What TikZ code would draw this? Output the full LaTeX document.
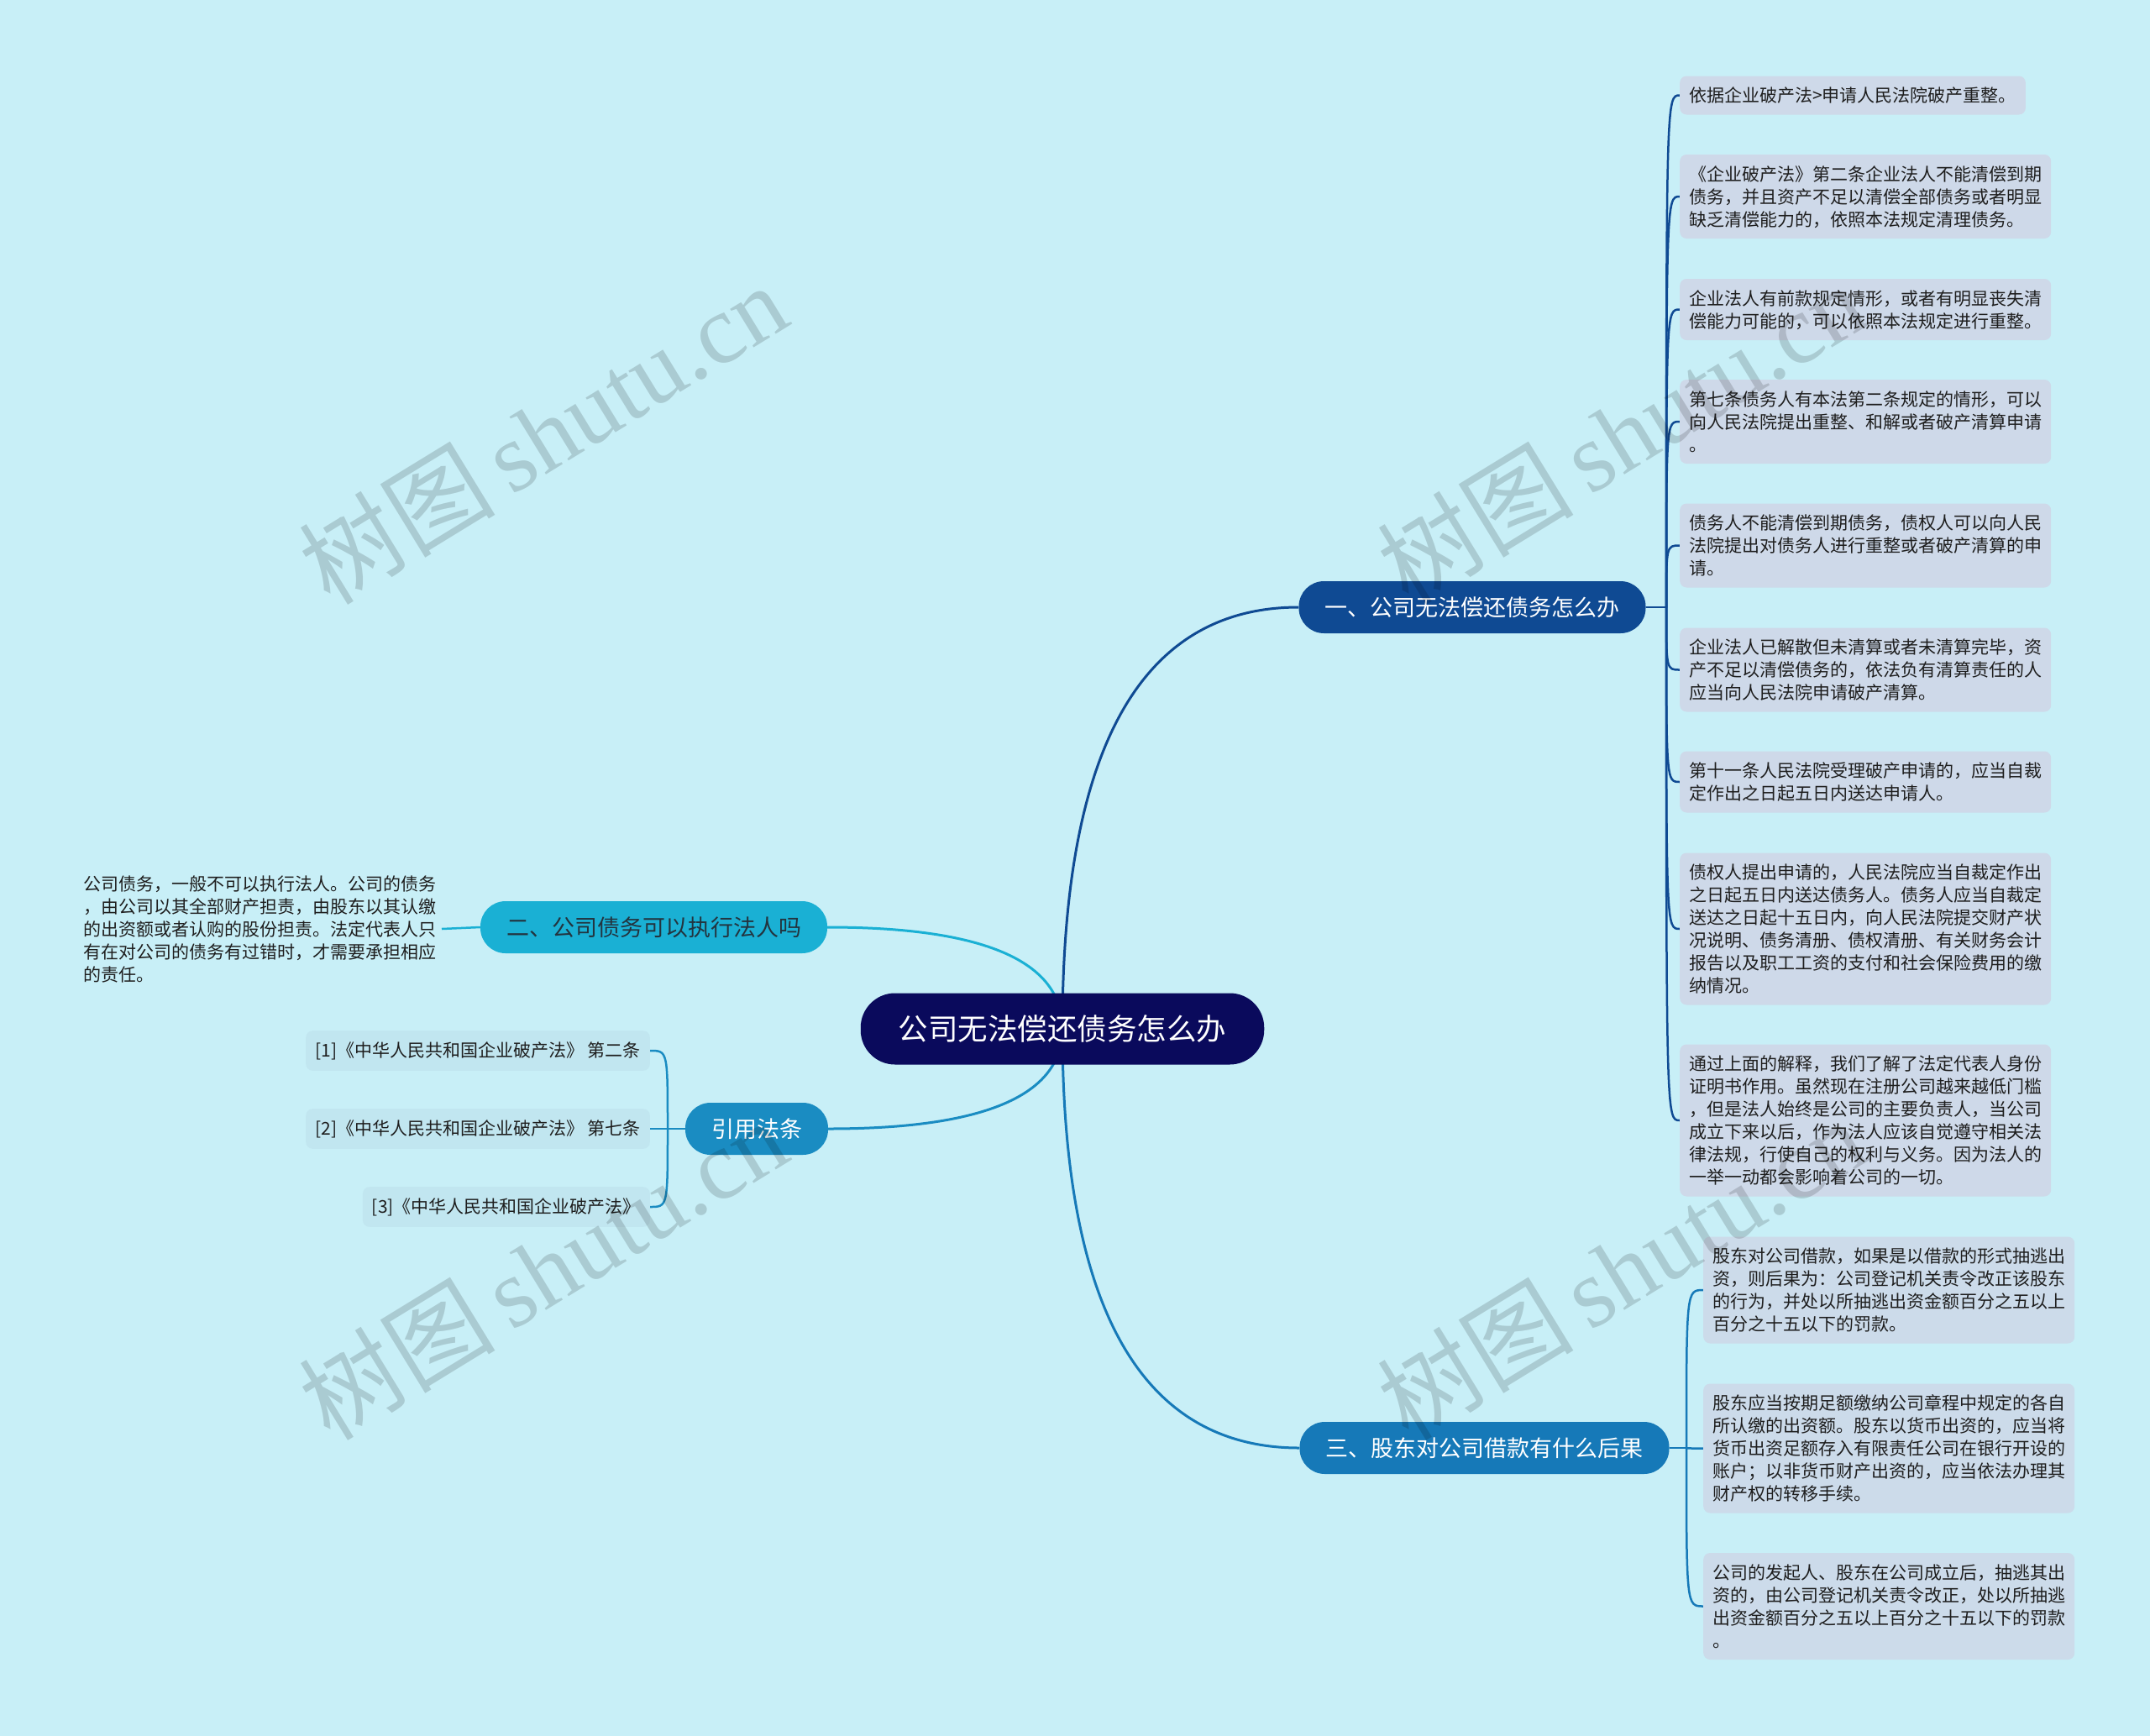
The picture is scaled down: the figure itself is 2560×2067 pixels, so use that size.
\documentclass[tikz,border=0pt]{standalone}
\usepackage{fontspec}
\setmainfont{Noto Sans CJK SC}
\newfontfamily\wmserif{Liberation Serif}
\newfontfamily\wmcjk{Noto Sans CJK SC}
\usetikzlibrary{calc}
\definecolor{bgc}{HTML}{C8EFF7}
\definecolor{rootc}{HTML}{0A0A5C}
\definecolor{bonec}{HTML}{0F4A93}
\definecolor{btwoc}{HTML}{1AB0D4}
\definecolor{citebc}{HTML}{1A8CC2}
\definecolor{bthreec}{HTML}{1679B8}
\definecolor{leafc}{HTML}{CED9E9}
\definecolor{leafcb}{HTML}{CCDBEA}
\definecolor{citec}{HTML}{C1E6F0}
\definecolor{txt}{HTML}{1E1E1E}
\definecolor{btwotxt}{HTML}{23343F}
\pgfdeclarelayer{back}
\pgfdeclarelayer{lines}
\pgfdeclarelayer{front}
\pgfsetlayers{back,lines,main,front}
\newcommand\lst{\vrule height 19pt depth 3pt width 0pt}
\begin{document}
\begin{tikzpicture}[x=1pt,y=-1pt,
  rootbox/.style={fill=rootc, text=white, rounded corners=41pt, minimum height=85pt,
    inner xsep=45pt, inner ysep=0pt, font=\fontsize{35.5}{40}\selectfont},
  branchbox/.style={rounded corners=30pt, minimum height=62pt, inner xsep=31pt,
    inner ysep=0pt, font=\fontsize{27}{32}\selectfont},
  leafbox/.style={fill=leafc, rounded corners=8pt, inner xsep=11pt, inner ysep=12pt,
    align=left, text=txt, font=\fontsize{21}{27}\selectfont, anchor=west},
  leafboxb/.style={leafbox, fill=leafcb},
  citebox/.style={fill=citec, rounded corners=8pt, inner xsep=11pt, inner ysep=12.5pt,
    text=txt, font=\fontsize{21}{27}\selectfont, anchor=east},
  plainleaf/.style={inner xsep=6pt, inner ysep=0pt, align=left, text=txt,
    font=\fontsize{21}{27}\selectfont, anchor=east},
  mainline/.style={line width=3pt},
  leafline/.style={line width=2.5pt},
  wm/.style={text=black, text opacity=0.15, font=\fontsize{117}{125}\selectfont, rotate=31.5}
]
\begin{pgfonlayer}{back}
\fill[bgc] (0,0) rectangle (2560,2067);
\end{pgfonlayer}
\useasboundingbox (0,0) rectangle (2560,2067);

% root and main branches
\node[rootbox] (root) at (1265,1225) {公司无法偿还债务怎么办};
\node[branchbox, fill=bonec, text=white] (b1) at (1753,723) {一、公司无法偿还债务怎么办};
\node[branchbox, fill=btwoc, text=btwotxt] (b2) at (778.5,1104) {二、公司债务可以执行法人吗};
\node[branchbox, fill=citebc, text=white] (b4) at (901,1344) {引用法条};
\node[branchbox, fill=bthreec, text=white] (b3) at (1767.5,1724) {三、股东对公司借款有什么后果};

% leaves of branch 1
\node[leafbox] (l1) at (2000,113.5) {\lst 依据企业破产法>申请人民法院破产重整。\lst};
\node[leafbox] (l2) at (2000,234) {\lst《企业破产法》第二条企业法人不能清偿到期\\债务，并且资产不足以清偿全部债务或者明显\\缺乏清偿能力的，依照本法规定清理债务。\lst};
\node[leafbox] (l3) at (2000,368.5) {\lst 企业法人有前款规定情形，或者有明显丧失清\\偿能力可能的，可以依照本法规定进行重整。\lst};
\node[leafbox] (l4) at (2000,502) {\lst 第七条债务人有本法第二条规定的情形，可以\\向人民法院提出重整、和解或者破产清算申请\\。\lst};
\node[leafbox] (l5) at (2000,649.5) {\lst 债务人不能清偿到期债务，债权人可以向人民\\法院提出对债务人进行重整或者破产清算的申\\请。\lst};
\node[leafbox] (l6) at (2000,797.5) {\lst 企业法人已解散但未清算或者未清算完毕，资\\产不足以清偿债务的，依法负有清算责任的人\\应当向人民法院申请破产清算。\lst};
\node[leafbox] (l7) at (2000,931) {\lst 第十一条人民法院受理破产申请的，应当自裁\\定作出之日起五日内送达申请人。\lst};
\node[leafbox] (l8) at (2000,1106) {\lst 债权人提出申请的，人民法院应当自裁定作出\\之日起五日内送达债务人。债务人应当自裁定\\送达之日起十五日内，向人民法院提交财产状\\况说明、债务清册、债权清册、有关财务会计\\报告以及职工工资的支付和社会保险费用的缴\\纳情况。\lst};
\node[leafbox] (l9) at (2000,1334) {\lst 通过上面的解释，我们了解了法定代表人身份\\证明书作用。虽然现在注册公司越来越低门槛\\，但是法人始终是公司的主要负责人，当公司\\成立下来以后，作为法人应该自觉遵守相关法\\律法规，行使自己的权利与义务。因为法人的\\一举一动都会影响着公司的一切。\lst};

% leaves of branch 3
\node[leafboxb] (m1) at (2028,1536) {\lst 股东对公司借款，如果是以借款的形式抽逃出\\资，则后果为：公司登记机关责令改正该股东\\的行为，并处以所抽逃出资金额百分之五以上\\百分之十五以下的罚款。\lst};
\node[leafboxb] (m2) at (2028,1724.5) {\lst 股东应当按期足额缴纳公司章程中规定的各自\\所认缴的出资额。股东以货币出资的，应当将\\货币出资足额存入有限责任公司在银行开设的\\账户；以非货币财产出资的，应当依法办理其\\财产权的转移手续。\lst};
\node[leafboxb] (m3) at (2028,1912.5) {\lst 公司的发起人、股东在公司成立后，抽逃其出\\资的，由公司登记机关责令改正，处以所抽逃\\出资金额百分之五以上百分之十五以下的罚款\\。\lst};

% leaf of branch 2
\node[plainleaf] (p1) at (526,1106) {\lst 公司债务，一般不可以执行法人。公司的债务\\，由公司以其全部财产担责，由股东以其认缴\\的出资额或者认购的股份担责。法定代表人只\\有在对公司的债务有过错时，才需要承担相应\\的责任。\lst};

% citations
\node[citebox] (c1) at (774,1251) {\lst[1]《中华人民共和国企业破产法》 第二条};
\node[citebox] (c2) at (774,1344) {\lst[2]《中华人民共和国企业破产法》 第七条};
\node[citebox] (c3) at (774,1437) {\lst[3]《中华人民共和国企业破产法》};

% junctions and curve corners
\coordinate (j1) at (1984,723);
\coordinate (j3) at (2008,1724);
\coordinate (j4) at (795,1344);
\coordinate (k1) at (root.center |- b1.west);
\coordinate (k2) at (root.center |- b2.east);
\coordinate (k4) at (root.center |- b4.east);
\coordinate (k3) at (root.center |- b3.west);

\begin{pgfonlayer}{lines}
\draw[mainline, bonec] (root.center) .. controls ($(root.center)!0.667!(k1)$) and ($(b1.west)!0.667!(k1)$) .. (b1.west);
\draw[mainline, btwoc] (root.center) .. controls ($(root.center)!0.667!(k2)$) and ($(b2.east)!0.667!(k2)$) .. (b2.east);
\draw[mainline, citebc] (root.center) .. controls ($(root.center)!0.667!(k4)$) and ($(b4.east)!0.667!(k4)$) .. (b4.east);
\draw[mainline, bthreec] (root.center) .. controls ($(root.center)!0.667!(k3)$) and ($(b3.west)!0.667!(k3)$) .. (b3.west);

\draw[leafline, bonec] (b1.east) -- (j1);
\foreach \n in {l1,l2,l3,l4,l5,l6,l7,l8,l9}
  \draw[leafline, bonec] (j1) .. controls (j1 |- \n.west) .. (\n.west);
\draw[leafline, bthreec] (b3.east) -- (j3);
\foreach \n in {m1,m2,m3}
  \draw[leafline, bthreec] (j3) .. controls (j3 |- \n.west) .. (\n.west);
\draw[leafline, citebc] (b4.west) -- (j4);
\foreach \n in {c1,c2,c3}
  \draw[leafline, citebc] (j4) .. controls (j4 |- \n.east) .. (\n.east);
\draw[leafline, btwoc] (b2.west) -- (p1.east);
\end{pgfonlayer}

\begin{pgfonlayer}{front}
\node[wm] (w1) at (646,516) {{\wmcjk 树图}\,{\wmserif shutu.cn}};
\node[wm] (w2) at (1930,516) {{\wmcjk 树图}\,{\wmserif shutu.cn}};
\node[wm] (w3) at (646,1511) {{\wmcjk 树图}\,{\wmserif shutu.cn}};
\node[wm] (w4) at (1930,1511) {{\wmcjk 树图}\,{\wmserif shutu.cn}};
\end{pgfonlayer}
\end{tikzpicture}
\end{document}
